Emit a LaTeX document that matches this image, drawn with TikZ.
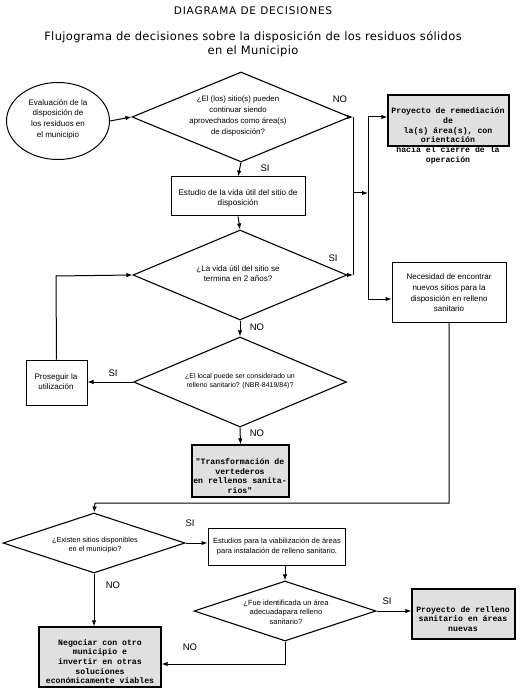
\documentclass[tikz,border=0pt]{standalone}
\usepackage{fontspec}
\setmainfont{Liberation Sans}
\setmonofont{Liberation Mono}
\newfontfamily\titlefont{DejaVu Sans}
\usetikzlibrary{shapes.geometric,arrows.meta}
\begin{document}
\begin{tikzpicture}[x=1pt,y=-1pt,line width=1pt,
  arr/.style={-{Latex[length=6pt,width=4.5pt]}},
  dec/.style={diamond,draw,line width=1.1pt,inner sep=0pt},
  box/.style={draw,rectangle,inner sep=0pt},
  gbox/.style={draw,rectangle,fill=black!12,line width=1.3pt,inner sep=0pt},
  txt/.style={align=center,inner sep=0pt},
  mono/.style={align=center,inner sep=0pt,font=\ttfamily\bfseries\fontsize{8.2}{9.7}\selectfont},
  lbl/.style={inner sep=0pt,font=\fontsize{9.5}{10}\selectfont}
]
\useasboundingbox (0,0) rectangle (520,692);
% titles
\node[txt,font=\titlefont\addfontfeatures{LetterSpace=8}\fontsize{10.5}{11}\selectfont] (title) at (253,11) {DIAGRAMA DE DECISIONES};
\node[txt,font=\titlefont\addfontfeatures{LetterSpace=3}\fontsize{11.5}{14}\selectfont] (sub) at (253,44) {Flujograma de decisiones sobre la disposición de los residuos sólidos\\en el Municipio};

% ellipse
\node[ellipse,draw,minimum width=103pt,minimum height=77pt,inner sep=0pt] (e1) at (58,121) {};
\node[txt,font=\fontsize{8}{10.7}\selectfont] (e1t) at (58,119) {Evaluación de la\\disposición de\\los residuos en\\el municipio};

% diamond 1
\node[dec,minimum width=218pt,minimum height=90pt] (d1) at (241,117) {};
\node[txt,font=\fontsize{7.8}{11.3}\selectfont] (d1t) at (238,116) {¿El (los) sitio(s) pueden\\continuar siendo\\aprovechados como área(s)\\de disposición?};

% box estudio
\node[box,minimum width=134pt,minimum height=39pt] (b1) at (238,196.5) {};
\node[txt,font=\fontsize{8.2}{9.8}\selectfont] (b1t) at (238,198.5) {Estudio de la vida útil del sitio de\\disposición};

% diamond 2
\node[dec,minimum width=214pt,minimum height=90pt] (d2) at (240,275) {};
\node[txt,font=\fontsize{8}{10}\selectfont] (d2t) at (238,274) {¿La vida útil del sitio se\\termina en 2 años?};

% diamond 3
\node[dec,minimum width=213pt,minimum height=90pt] (d3) at (240,382) {};
\node[txt,font=\fontsize{7}{8.8}\selectfont] (d3t) at (240,381) {¿El local puede ser considerado un\\relleno sanitario? (NBR-8419/84)?};

% proseguir
\node[box,minimum width=61pt,minimum height=45pt] (pr) at (56.5,382.5) {};
\node[txt,font=\fontsize{8}{10}\selectfont] (prt) at (56,382) {Proseguir la\\utilización};

% transformacion
\node[gbox,minimum width=97pt,minimum height=52pt] (tr) at (240.5,471) {};
\node[mono] (trt) at (240,476) {"Transformación de\\vertederos\\en rellenos sanita-\\rios"};

% box remediacion
\node[gbox,minimum width=121pt,minimum height=51pt] (rm) at (448.5,120.5) {};
\node[mono] (rmt) at (448,136) {Proyecto de remediación\\de\\la(s) área(s), con\\orientación\\hacia el cierre de la\\operación};

% box necesidad
\node[box,minimum width=114pt,minimum height=60pt] (ne) at (449,292) {};
\node[txt,font=\fontsize{8}{10.7}\selectfont] (net) at (449,293) {Necesidad de encontrar\\nuevos sitios para la\\disposición en relleno\\sanitario};

% diamond 4
\node[dec,minimum width=182pt,minimum height=60pt] (d4) at (94,543) {};
\node[txt,font=\fontsize{7.3}{9}\selectfont] (d4t) at (95,545) {¿Existen sitios disponibles\\en el municipio?};

% box estudios
\node[box,minimum width=137pt,minimum height=37pt] (es) at (276.5,546.5) {};
\node[txt,font=\fontsize{7.5}{10}\selectfont] (est) at (277,547) {Estudios para la viabilización de áreas\\para instalación de relleno sanitario.};

% diamond 5
\node[dec,minimum width=182pt,minimum height=60pt] (d5) at (285,611) {};
\node[txt,font=\fontsize{7.5}{9.5}\selectfont] (d5t) at (286,612) {¿Fue identificada un área\\adecuadapara relleno\\sanitario?};

% proyecto relleno
\node[gbox,minimum width=103pt,minimum height=50pt] (pn) at (463.5,614) {};
\node[mono] (pnt) at (463,619) {Proyecto de relleno\\sanitario en áreas\\nuevas};

% negociar
\node[gbox,minimum width=122pt,minimum height=60pt] (ng) at (100,657) {};
\node[mono] (ngt) at (100,661.5) {Negociar con otro\\municipio e\\invertir en otras\\soluciones\\económicamente viables};

% coordinates
\coordinate (ja) at (353,117);
\coordinate (jb) at (353,275);
\coordinate (jm) at (353,193);
\coordinate (ka) at (368,117);
\coordinate (kb) at (368,299);
\coordinate (km) at (368,193);
\coordinate (pt) at (56,276);
\coordinate (nb) at (449,503);
\coordinate (nc) at (95,503);
\coordinate (fb) at (285,664);

% connectors
\draw[arr] (e1.east) -- (d1.west);
\draw[arr] (d1.south) -- (b1.north);
\draw[arr] (b1.south) -- (d2.north);
\draw[arr] (d2.south) -- (d3.north);
\draw[arr] (d3.south) -- (tr.north);
\draw[arr] (d1.east) -- (ja);
\draw[arr] (d2.east) -- (jb);
\draw (ja) -- (jb);
\draw[arr] (jm) -- (km);
\draw (ka) -- (kb);
\draw[arr] (ka) -- (ka -| rm.west);
\draw[arr] (kb) -- (kb -| ne.west);
\draw[arr] (d3.west) -- (d3.west -| pr.east);
\draw[arr] (pr.north) -- (pt) -- (d2.west);
\draw[arr] (ne.south) -- (nb) -- (nc) -- (d4.north);
\draw[arr] (d4.east) -- (d4.east -| es.west);
\draw[arr] (es.south -| d5.north) -- (d5.north);
\draw[arr] (d5.east) -- (d5.east -| pn.west);
\draw[arr] (d4.south) -- (d4.south |- ng.north);
\draw[arr] (d5.south) -- (fb) -- (fb -| ng.east);

% labels
\node[lbl] (l1) at (340,99) {NO};
\node[lbl] (l2) at (265,168) {SI};
\node[lbl] (l3) at (333,258) {SI};
\node[lbl] (l4) at (257,327) {NO};
\node[lbl] (l5) at (113,373) {SI};
\node[lbl] (l6) at (257,433) {NO};
\node[lbl] (l7) at (190,523) {SI};
\node[lbl] (l8) at (387,601) {SI};
\node[lbl] (l9) at (113,585) {NO};
\node[lbl] (l10) at (190,647) {NO};
\end{tikzpicture}
\end{document}
